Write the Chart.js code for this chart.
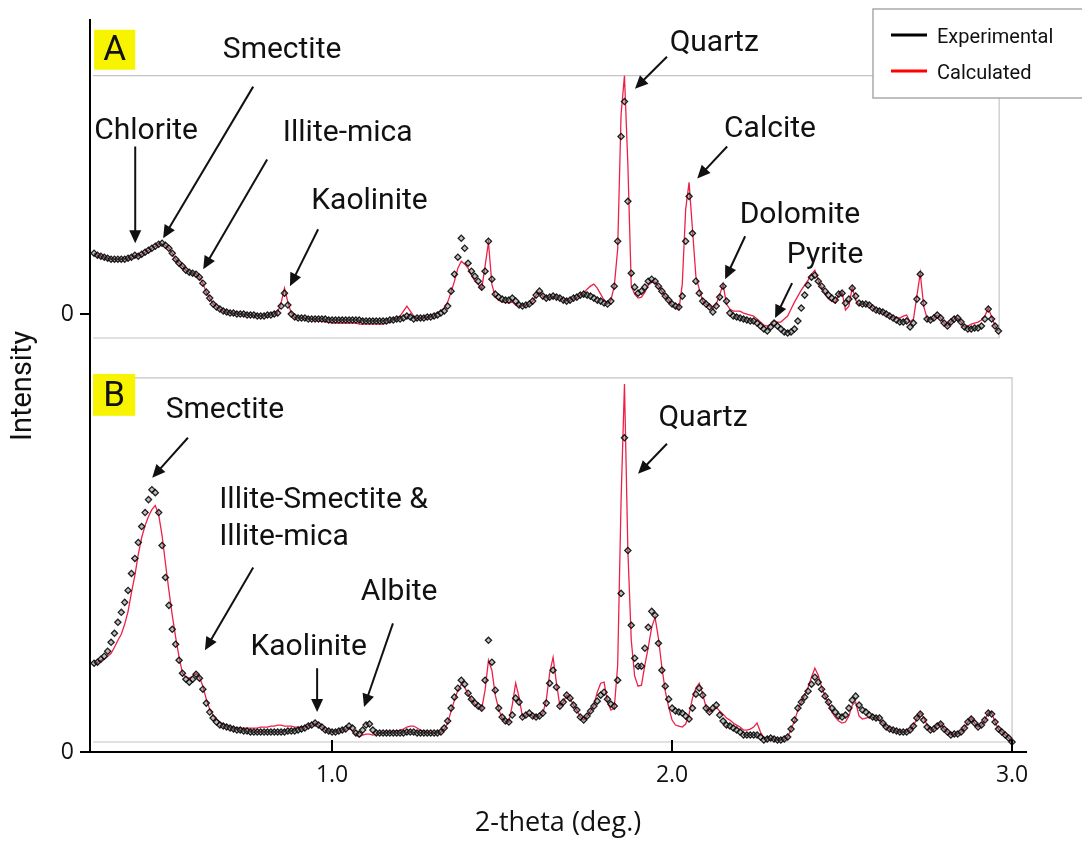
<!DOCTYPE html>
<html>
<head>
<meta charset="utf-8">
<script src="https://cdn.jsdelivr.net/npm/chart.js@4.4.0/dist/chart.umd.min.js"></script>
<style>
  html, body { margin: 0; padding: 0; background: #fff; }
  #wrap { width: 1082px; height: 842px; }
</style>
</head>
<body>
<div id="wrap"><canvas id="xrd" width="1082" height="842"></canvas></div>
<script>
// scan grid, 2-theta in degrees, step 0.01 from 0.30
const twoTheta = Array.from({ length: 271 }, (_, i) => +(0.30 + i * 0.01).toFixed(2))

// panel A (0.30 - 2.96), heights above the A zero line
const expA = [
  61, 59, 58, 57, 56, 55, 55, 55, 55, 55,
  56, 57, 59, 58, 60, 62, 64, 66, 68, 70,
  71, 69, 66, 61, 55, 51, 48, 44, 42, 41,
  40, 37, 31, 22, 16, 10, 7, 5, 3, 2,
  1, 1, 0, 0, 0, -1, -1, -1, -2, -2,
  -2, -1, -1, 0, 1, 8, 21, 9, 0, -3,
  -4, -4, -4, -5, -5, -5, -5, -5, -5, -6,
  -6, -6, -6, -6, -6, -6, -6, -6, -6, -7,
  -7, -7, -7, -7, -7, -7, -7, -6, -6, -5,
  -5, -4, -2, -3, -5, -4, -4, -4, -3, -3,
  -2, -1, 1, 3, 8, 23, 40, 57, 76, 66,
  51, 43, 38, 33, 27, 43, 73, 35, 20, 17,
  15, 14, 14, 16, 13, 9, 8, 9, 10, 13,
  19, 23, 18, 16, 17, 18, 17, 16, 14, 13,
  14, 16, 17, 19, 20, 19, 18, 16, 14, 13,
  11, 10, 13, 28, 73, 178, 213, 113, 41, 27,
  21, 23, 27, 33, 35, 33, 28, 23, 18, 14,
  10, 8, 7, 18, 73, 118, 81, 33, 21, 13,
  10, 7, 2, 8, 17, 28, 13, 1, -2, -3,
  -4, -5, -6, -7, -7, -9, -12, -15, -17, -13,
  -9, -12, -15, -18, -19, -18, -15, -7, 6, 19,
  29, 37, 39, 33, 28, 23, 19, 16, 14, 20,
  21, 11, 15, 26, 18, 11, 10, 10, 9, 6,
  4, 3, 2, 0, -2, -4, -6, -8, -8, -7,
  -13, -9, 15, 40, 11, -5, -6, -4, -1, -4,
  -9, -12, -8, -5, -4, -8, -13, -15, -15, -14,
  -14, -12, -5, 5, -5, -12, -17
]
const calcA = [
  61, 59, 58, 57, 56, 55, 55, 55, 55, 55,
  56, 57, 59, 58, 60, 62, 64, 66, 68, 70,
  70, 69, 66, 61, 55, 51, 48, 44, 42, 41,
  40, 37, 31, 22, 16, 10, 7, 5, 3, 2,
  1, 1, 0, 0, 0, -1, -1, -1, -2, -2,
  -2, -1, -1, 0, 2, 11, 26, 12, 1, -3,
  -4, -4, -4, -5, -5, -6, -7, -7, -8, -8,
  -9, -9, -9, -9, -9, -9, -9, -9, -10, -10,
  -10, -10, -10, -10, -10, -10, -9, -8, -6, -4,
  -2, 3, 8, 3, -2, -4, -5, -4, -3, -3,
  -2, 1, 3, 6, 12, 22, 33, 46, 53, 50,
  46, 39, 33, 30, 25, 48, 72, 30, 17, 14,
  12, 12, 11, 12, 9, 8, 8, 9, 10, 13,
  19, 22, 18, 16, 17, 18, 17, 16, 14, 13,
  14, 16, 17, 19, 21, 25, 28, 30, 26, 20,
  14, 10, 14, 28, 65, 200, 239, 150, 28, 20,
  16, 17, 22, 29, 32, 32, 28, 23, 18, 14,
  9, 6, 4, 30, 105, 132, 85, 38, 25, 13,
  10, 8, 5, 10, 19, 30, 10, 5, 3, 3,
  3, 1, 0, -1, -2, -5, -8, -11, -12, -10,
  -7, -8, -8, -5, -2, 5, 12, 18, 24, 29,
  34, 40, 44, 34, 26, 20, 15, 13, 11, 20,
  22, 4, 8, 27, 14, 9, 10, 10, 9, 6,
  4, 3, 2, 0, -2, -4, -3, -4, -2, -1,
  -8, -5, 18, 41, 8, -4, -6, -4, -1, -4,
  -9, -12, -8, -5, -4, -8, -13, -12, -10, -9,
  -8, -6, -2, 6, -3, -12, -17
]

// panel B (0.30 - 3.00), heights above the B zero line
const expB = [
  89, 90, 93, 96, 101, 110, 119, 130, 140, 150,
  162, 179, 194, 210, 226, 240, 253, 263, 260, 240,
  207, 175, 147, 123, 108, 92, 79, 73, 70, 73,
  78, 74, 63, 49, 40, 34, 30, 27, 26, 25,
  24, 23, 22, 22, 21, 21, 20, 20, 20, 20,
  20, 20, 20, 20, 20, 20, 20, 21, 21, 21,
  22, 23, 24, 26, 27, 29, 27, 25, 22, 21,
  20, 20, 21, 22, 23, 26, 24, 19, 18, 22,
  27, 28, 22, 19, 19, 19, 19, 19, 19, 19,
  19, 19, 20, 20, 20, 19, 19, 19, 19, 19,
  19, 19, 20, 24, 31, 44, 55, 64, 72, 68,
  59, 53, 49, 46, 44, 72, 112, 90, 62, 44,
  35, 31, 30, 37, 54, 50, 35, 37, 39, 36,
  35, 36, 39, 49, 69, 82, 65, 46, 50, 57,
  54, 47, 42, 35, 32, 36, 41, 46, 51, 57,
  60, 53, 48, 46, 72, 159, 315, 202, 127, 94,
  86, 86, 104, 125, 141, 137, 109, 82, 66, 53,
  44, 41, 40, 39, 36, 33, 44, 58, 64, 57,
  44, 40, 44, 47, 37, 31, 27, 26, 24, 22,
  20, 17, 17, 17, 17, 17, 15, 12, 13, 14,
  13, 12, 12, 13, 15, 23, 32, 44, 50, 55,
  61, 68, 75, 70, 63, 56, 50, 44, 40, 36,
  35, 37, 44, 52, 56, 47, 42, 40, 37, 35,
  34, 34, 29, 25, 23, 22, 21, 20, 20, 20,
  22, 26, 34, 38, 32, 25, 22, 23, 26, 28,
  23, 20, 17, 18, 18, 20, 24, 30, 33, 29,
  25, 27, 32, 39, 38, 30, 23, 20, 17, 14, 10
]
const calcB = [
  89, 90, 92, 93, 96, 99, 105, 112, 118, 128,
  141, 160, 177, 198, 215, 227, 236, 243, 247, 238,
  217, 189, 162, 137, 115, 95, 79, 75, 74, 76,
  79, 75, 66, 53, 43, 37, 33, 30, 28, 26,
  25, 24, 24, 24, 24, 24, 24, 24, 24, 25,
  25, 25, 26, 26, 27, 27, 26, 26, 26, 25,
  25, 25, 25, 26, 27, 29, 27, 25, 22, 21,
  20, 20, 21, 22, 23, 25, 21, 17, 15, 17,
  18, 18, 17, 18, 19, 19, 20, 20, 21, 21,
  22, 23, 25, 26, 26, 24, 22, 21, 20, 19,
  19, 19, 20, 23, 29, 41, 52, 62, 68, 65,
  58, 52, 48, 45, 43, 62, 92, 82, 57, 43,
  34, 31, 30, 47, 69, 55, 35, 37, 38, 36,
  35, 36, 39, 52, 79, 95, 69, 46, 50, 57,
  54, 47, 42, 35, 32, 36, 41, 47, 60, 69,
  70, 50, 42, 44, 87, 252, 369, 202, 112, 76,
  66, 67, 87, 105, 125, 135, 114, 85, 61, 45,
  32, 27, 26, 25, 28, 38, 54, 64, 69, 58,
  45, 40, 42, 45, 41, 38, 34, 32, 29, 27,
  25, 22, 22, 23, 25, 29, 20, 14, 14, 14,
  13, 12, 12, 13, 15, 23, 31, 42, 50, 57,
  65, 75, 84, 77, 65, 56, 49, 40, 35, 31,
  29, 30, 36, 47, 50, 36, 33, 34, 35, 35,
  33, 32, 29, 25, 23, 22, 21, 20, 20, 20,
  22, 26, 34, 39, 35, 27, 22, 23, 27, 29,
  23, 20, 17, 18, 18, 20, 24, 30, 34, 29,
  25, 27, 32, 40, 39, 30, 23, 20, 17, 14, 10
]

const xTicks = [1.0, 2.0, 3.0]
const legendItems = ['Experimental', 'Calculated']
const A_OFFSET = 439 // panel A is stacked above panel B

const toPoints = (ys, offset) => ys.map((y, i) => ({ x: twoTheta[i], y: y + offset }))

// peak labels, positions in (2-theta, stacked intensity)
const peakLabels = [
  { text: 'Smectite', x: 0.853, y: 703, from: [0.768, 667], to: [0.503, 515] },
  { text: 'Chlorite', x: 0.453, y: 622, from: [0.421, 607], to: [0.421, 510] },
  { text: 'Illite-mica', x: 1.046, y: 620, from: [0.809, 594], to: [0.621, 484] },
  { text: 'Kaolinite', x: 1.110, y: 552, from: [0.959, 524], to: [0.876, 467] },
  { text: 'Quartz', x: 2.124, y: 710, from: [1.985, 697], to: [1.891, 665] },
  { text: 'Calcite', x: 2.288, y: 624, from: [2.162, 607], to: [2.074, 575] },
  { text: 'Dolomite', x: 2.376, y: 538, from: [2.215, 517], to: [2.156, 474] },
  { text: 'Pyrite', x: 2.450, y: 498, from: [2.353, 470], to: [2.303, 435] },
  { text: 'Smectite', x: 0.685, y: 342, from: [0.576, 315], to: [0.471, 275] },
  { text: 'Illite-Smectite &', x: 0.668, y: 252, align: 'left', from: [0.768, 185], to: [0.626, 102] },
  { text: 'Illite-mica', x: 0.668, y: 215, align: 'left' },
  { text: 'Kaolinite', x: 0.931, y: 105, from: [0.956, 84], to: [0.956, 40] },
  { text: 'Albite', x: 1.197, y: 160, from: [1.179, 129], to: [1.094, 45] },
  { text: 'Quartz', x: 2.091, y: 334, from: [1.985, 309], to: [1.900, 279] }
]

const panels = [
  { tag: 'A', x0: 0.297, x1: 2.962, y0: 415, y1: 678, tagX: [0.300, 0.421], tagY: [684, 724] },
  { tag: 'B', x0: 0.297, x1: 3.000, y0: 10, y1: 375, tagX: [0.297, 0.421], tagY: [337, 379] }
]

const RED = 'rgb(238, 32, 72)'

function arrow (ctx, x1, y1, x2, y2) {
  const ang = Math.atan2(y2 - y1, x2 - x1)
  const head = 13
  ctx.beginPath()
  ctx.moveTo(x1, y1)
  ctx.lineTo(x2 - Math.cos(ang) * head * 0.8, y2 - Math.sin(ang) * head * 0.8)
  ctx.stroke()
  ctx.beginPath()
  ctx.moveTo(x2, y2)
  ctx.lineTo(x2 - head * Math.cos(ang) + 6 * Math.sin(ang), y2 - head * Math.sin(ang) - 6 * Math.cos(ang))
  ctx.lineTo(x2 - head * Math.cos(ang) - 6 * Math.sin(ang), y2 - head * Math.sin(ang) + 6 * Math.cos(ang))
  ctx.closePath()
  ctx.fill()
}

const decor = {
  id: 'decor',
  beforeDatasetsDraw (chart) {
    const { ctx, scales: { x, y } } = chart
    ctx.save()
    ctx.strokeStyle = '#c4c4c4'
    ctx.lineWidth = 1.2
    panels.forEach(p => {
      const l = x.getPixelForValue(p.x0)
      const r = x.getPixelForValue(p.x1)
      const t = y.getPixelForValue(p.y1)
      const b = y.getPixelForValue(p.y0)
      ctx.beginPath()
      ctx.moveTo(l, t)
      ctx.lineTo(r, t)
      ctx.lineTo(r, b)
      ctx.lineTo(l, b)
      ctx.stroke()
    })
    ctx.restore()
  },
  afterDatasetsDraw (chart) {
    const { ctx, scales: { x, y } } = chart
    ctx.save()
    // panel tags
    panels.forEach(p => {
      const l = x.getPixelForValue(p.tagX[0])
      const r = x.getPixelForValue(p.tagX[1])
      const t = y.getPixelForValue(p.tagY[1])
      const b = y.getPixelForValue(p.tagY[0])
      ctx.fillStyle = '#f8f400'
      ctx.fillRect(l, t, r - l, b - t)
      ctx.fillStyle = '#111'
      ctx.font = '35px Roboto'
      ctx.textAlign = 'center'
      ctx.textBaseline = 'middle'
      ctx.fillText(p.tag, (l + r) / 2, (t + b) / 2 + 2)
    })
    // peak labels and arrows
    ctx.font = '30px Roboto'
    ctx.fillStyle = '#111'
    ctx.strokeStyle = '#111'
    ctx.lineWidth = 2
    peakLabels.forEach(a => {
      ctx.textAlign = a.align || 'center'
      ctx.textBaseline = 'middle'
      ctx.fillText(a.text, x.getPixelForValue(a.x), y.getPixelForValue(a.y))
      if (a.from) {
        arrow(ctx, x.getPixelForValue(a.from[0]), y.getPixelForValue(a.from[1]),
          x.getPixelForValue(a.to[0]), y.getPixelForValue(a.to[1]))
      }
    })
    ctx.restore()
  },
  afterDraw (chart) {
    const { ctx, scales: { x } } = chart
    const bottom = chart.chartArea.bottom
    ctx.save()
    // x ticks point into the plot
    ctx.strokeStyle = '#000'
    ctx.lineWidth = 2
    xTicks.forEach(v => {
      const px = Math.round(x.getPixelForValue(v))
      ctx.beginPath()
      ctx.moveTo(px, bottom)
      ctx.lineTo(px, bottom - 12)
      ctx.stroke()
    })
    // legend box
    ctx.fillStyle = '#fff'
    ctx.fillRect(873, 9, 230, 89)
    ctx.strokeStyle = '#aaa'
    ctx.lineWidth = 1.5
    ctx.strokeRect(873, 9, 230, 89)
    const colors = ['#000', '#ff0000']
    legendItems.forEach((label, i) => {
      const yy = 35 + i * 36
      ctx.strokeStyle = colors[i]
      ctx.lineWidth = 3
      ctx.beginPath()
      ctx.moveTo(891, yy)
      ctx.lineTo(927, yy)
      ctx.stroke()
      ctx.fillStyle = '#111'
      ctx.font = '20px Roboto'
      ctx.textAlign = 'left'
      ctx.textBaseline = 'middle'
      ctx.fillText(label, 937, yy + 3)
    })
    ctx.restore()
  }
}

const expStyle = {
  showLine: false,
  pointStyle: 'rectRot',
  pointRadius: 3.1,
  pointBorderWidth: 1.3,
  pointBorderColor: 'rgba(10, 10, 10, 0.9)',
  pointBackgroundColor: 'rgba(110, 110, 110, 0.45)'
}
const calcStyle = {
  showLine: true,
  borderColor: RED,
  borderWidth: 1.3,
  pointRadius: 0,
  tension: 0,
  fill: false
}

new Chart(document.getElementById('xrd'), {
  type: 'scatter',
  data: {
    datasets: [
      { label: 'Experimental', data: toPoints(expA, A_OFFSET), ...expStyle },
      { label: 'Experimental', data: toPoints(expB, 0), ...expStyle },
      { label: 'Calculated', data: toPoints(calcA, A_OFFSET), ...calcStyle },
      { label: 'Calculated', data: toPoints(calcB, 0), ...calcStyle }
    ]
  },
  options: {
    responsive: false,
    animation: false,
    devicePixelRatio: 1,
    layout: { padding: { top: 18, right: 56, bottom: 0, left: 0 } },
    plugins: { legend: { display: false }, tooltip: { enabled: false } },
    scales: {
      x: {
        type: 'linear',
        min: 0.288,
        max: 3.041,
        afterBuildTicks: s => { s.ticks = xTicks.map(v => ({ value: v })) },
        afterFit: s => { s.height = 90 },
        ticks: {
          callback: v => v.toFixed(1),
          font: { family: 'Open Sans', size: 23 },
          color: '#111',
          padding: 10,
          maxRotation: 0,
          autoSkip: false
        },
        grid: { display: false, drawTicks: false },
        border: { display: true, color: '#000', width: 2 },
        title: {
          display: true,
          text: '2-theta (deg.)',
          font: { family: 'Open Sans', size: 27 },
          color: '#111',
          padding: { top: 0, bottom: 2 }
        }
      },
      y: {
        type: 'linear',
        min: 0,
        max: 734,
        afterBuildTicks: s => { s.ticks = [{ value: 0 }, { value: A_OFFSET }] },
        afterFit: s => { s.width = 90 },
        ticks: {
          callback: () => '0',
          font: { family: 'Open Sans', size: 23 },
          color: '#111',
          padding: 6
        },
        grid: { display: true, drawOnChartArea: false, drawTicks: true, tickLength: 10, color: '#000', lineWidth: 2 },
        border: { display: true, color: '#000', width: 2 },
        title: {
          display: true,
          text: 'Intensity',
          font: { family: 'Roboto', size: 29 },
          color: '#111',
          padding: { top: 6, bottom: 0 }
        }
      }
    }
  },
  plugins: [decor]
})
</script>
</body>
</html>
